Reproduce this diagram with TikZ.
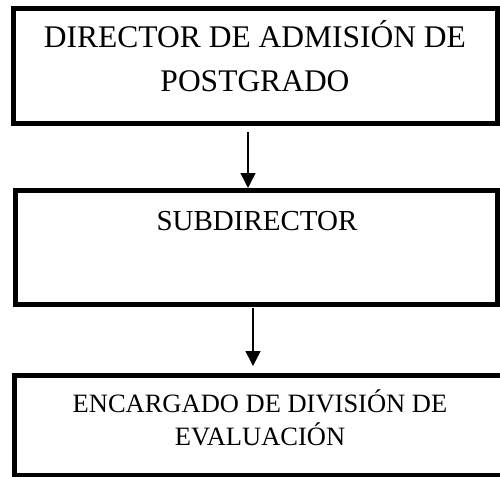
\documentclass[tikz,border=0pt]{standalone}
\usepackage{fontspec}
\setmainfont{Liberation Serif}
\usetikzlibrary{arrows.meta,positioning}

\begin{document}
\begin{tikzpicture}[x=1pt,y=-1pt,
  box/.style={draw,line width=5pt,inner sep=0pt},
  txt/.style={align=center,inner sep=0pt,anchor=base},
  flecha/.style={-{Triangle[length=15pt,width=15pt]},line width=1.5pt}]
  \useasboundingbox (0,0) rectangle (500,476);
  % cajas
  \node[box,minimum width=484pt,minimum height=114.5pt] (dir) at (255,66.25) {};
  \node[box,minimum width=482pt,minimum height=114pt] (sub) at (256,247.5) {};
  \node[box,minimum width=490.5pt,minimum height=99.5pt] (enc) at (259.75,425.25) {};
  % textos
  \node[txt,font=\fontsize{31.5}{44}\selectfont] (dirtxt) at (255,92) {DIRECTOR DE ADMISIÓN DE\\POSTGRADO};
  \node[txt,font=\fontsize{29}{44}\selectfont] (subtxt) at (257,230) {SUBDIRECTOR};
  \node[txt,font=\fontsize{26.5}{33}\selectfont] (enctxt) at (260,445) {ENCARGADO DE DIVISIÓN DE\\EVALUACIÓN};
  % flechas
  \coordinate (a1) at (248,132);
  \coordinate (a2) at (253,308);
  \draw[flecha] (a1) -- (a1 |- sub.north);
  \draw[flecha] (a2) -- ([yshift=7pt]a2 |- enc.north);
\end{tikzpicture}
\end{document}
